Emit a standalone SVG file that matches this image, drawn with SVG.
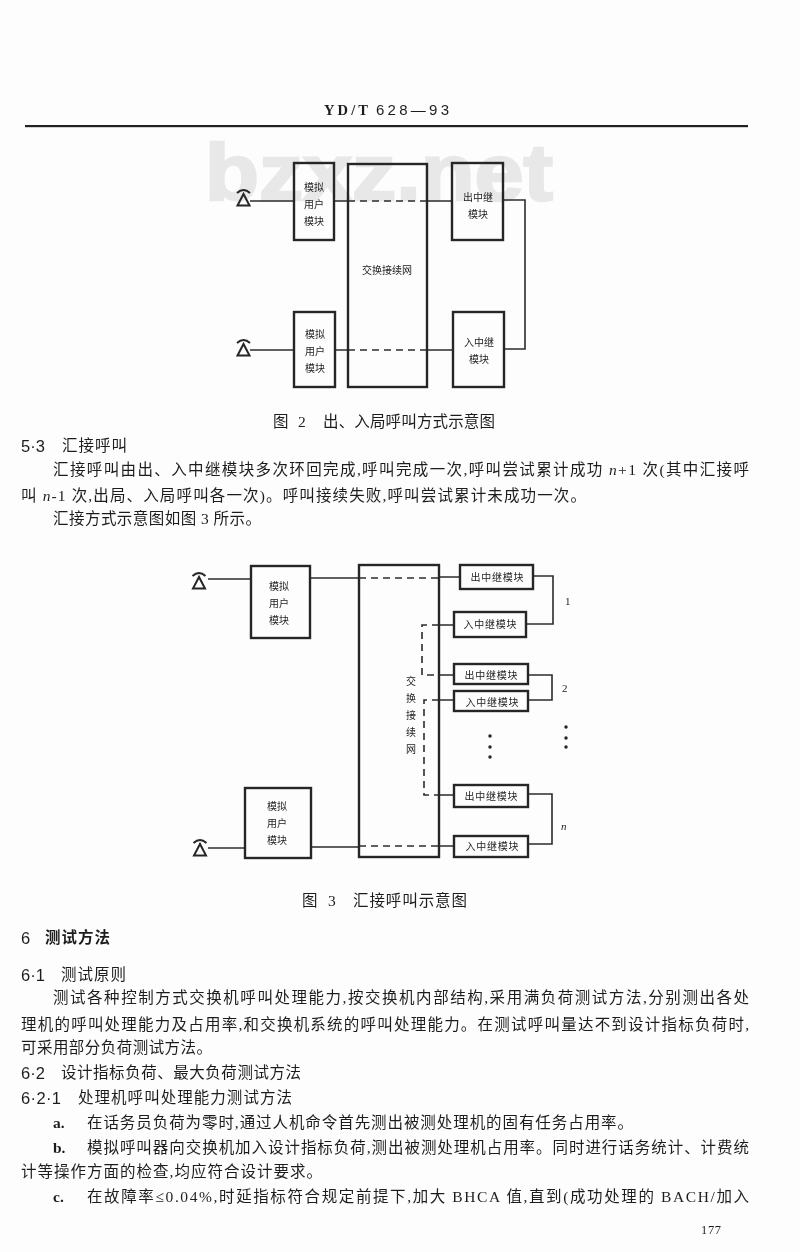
<svg xmlns="http://www.w3.org/2000/svg" width="800" height="1252" viewBox="0 0 800 1252">
<style>
text{font-family:"Liberation Serif","Noto Sans CJK SC",serif;fill:#1e1e1e}
.b{font-size:15.500px}
.s{font-family:"Liberation Sans","Noto Sans CJK SC",sans-serif;font-size:16.500px}
.l{font-size:10px;text-anchor:middle;font-family:"Noto Sans CJK SC",sans-serif}
.c{font-size:15.500px}
.box{fill:none;stroke:#262626;stroke-width:2.400}
.w{fill:none;stroke:#2b2b2b;stroke-width:1.600}
.d{fill:none;stroke:#2b2b2b;stroke-width:1.600;stroke-dasharray:7 5}
.t{fill:none;stroke:#262626;stroke-width:2}
</style>
<defs>
<filter id="soft" x="0" y="0" width="100%" height="100%"><feGaussianBlur stdDeviation="0.350"/></filter>
<g id="ph"><path class="t" d="M-6.500 -6Q0 -12 6.500 -6"/><path class="t" d="M0 -5L-6 6.500H6Z"/></g>
</defs>
<rect width="800" height="1252" fill="#fdfdfd"/>
<g filter="url(#soft)">
<text x="205" y="200" style="font-family:'Liberation Sans',sans-serif;font-size:80px;font-weight:bold;fill:#e8e8e8;stroke:#e8e8e8;stroke-width:2.500" textLength="348" lengthAdjust="spacingAndGlyphs">bzxz.net</text>

<g id="header">
<text x="324" y="115" style="font-size:14.500px;font-weight:bold" textLength="44" lengthAdjust="spacing">YD/T</text>
<text x="376" y="115" style="font-family:'Liberation Sans',sans-serif;font-size:15px" textLength="73" lengthAdjust="spacing">628—93</text>
<rect x="25" y="125" width="723" height="2.200" fill="#222"/>
</g>

<g id="fig2-connectors">
<path class="w" d="M250 201H294M334 201H348M427 201H452M503 200H525V349H504M250 350H294M335 350H348M427 350H453"/>
<path class="d" d="M348 201H427M348 350H427"/>
</g>
<g id="f2-phone1"><use href="#ph" x="243.500" y="199"/></g>
<g id="f2-phone2"><use href="#ph" x="243.500" y="349"/></g>
<g id="f2-sub1"><rect class="box" x="294" y="163" width="40" height="77"/>
<text class="l"><tspan x="314" y="191">模拟</tspan><tspan x="314" y="208">用户</tspan><tspan x="314" y="225">模块</tspan></text></g>
<g id="f2-sub2"><rect class="box" x="294" y="312" width="41" height="75"/>
<text class="l"><tspan x="315" y="338">模拟</tspan><tspan x="315" y="355">用户</tspan><tspan x="315" y="372">模块</tspan></text></g>
<g id="f2-switch"><rect class="box" x="348" y="164" width="79" height="223"/>
<text class="l" x="387" y="274">交换接续网</text></g>
<g id="f2-out"><rect class="box" x="452" y="163" width="51" height="77"/>
<text class="l"><tspan x="478" y="201">出中继</tspan><tspan x="478" y="218">模块</tspan></text></g>
<g id="f2-in"><rect class="box" x="453" y="312" width="51" height="75"/>
<text class="l"><tspan x="479" y="346">入中继</tspan><tspan x="479" y="363">模块</tspan></text></g>
<g id="cap2"><text class="c" x="273" y="427">图</text><text class="c" x="298" y="427">2</text>
<text class="c" x="323" y="427" textLength="172" lengthAdjust="spacing">出、入局呼叫方式示意图</text></g>

<g id="sec53">
<text class="s" x="21" y="452">5·3</text>
<text class="b" x="62" y="451" textLength="65" lengthAdjust="spacing">汇接呼叫</text>
<text class="b" x="53" y="475" textLength="696" lengthAdjust="spacing">汇接呼叫由出、入中继模块多次环回完成,呼叫完成一次,呼叫尝试累计成功 <tspan font-style="italic">n</tspan>+1 次(其中汇接呼</text>
<text class="b" x="21" y="501" textLength="565" lengthAdjust="spacing">叫 <tspan font-style="italic">n</tspan>-1 次,出局、入局呼叫各一次)。呼叫接续失败,呼叫尝试累计未成功一次。</text>
<text class="b" x="53" y="524" textLength="208" lengthAdjust="spacing">汇接方式示意图如图 3 所示。</text>
</g>

<g id="fig3-connectors">
<path class="w" d="M208 579H251M310 578H359M439 577H460M533 576H553V624H526M439 625H454M439 675H454M528 675H552V700H528M439 700H454M439 795H454M528 794H552V844H528M208 848H245M311 847H359M439 846H454"/>
<path class="d" d="M359 578H439M359 846H439M439 625H422V675H439M439 700H424V795H439"/>
</g>
<g id="f3-phone1"><use href="#ph" x="199" y="582"/></g>
<g id="f3-phone2"><use href="#ph" x="200" y="849"/></g>
<g id="f3-sub1"><rect class="box" x="251" y="566" width="59" height="72"/>
<text class="l"><tspan x="279" y="590">模拟</tspan><tspan x="279" y="607">用户</tspan><tspan x="279" y="624">模块</tspan></text></g>
<g id="f3-sub2"><rect class="box" x="245" y="788" width="66" height="70"/>
<text class="l"><tspan x="277" y="810">模拟</tspan><tspan x="277" y="827">用户</tspan><tspan x="277" y="844">模块</tspan></text></g>
<g id="f3-switch"><rect class="box" x="359" y="565" width="80" height="292"/>
<text class="l"><tspan x="411" y="685">交</tspan><tspan x="411" y="702">换</tspan><tspan x="411" y="719">接</tspan><tspan x="411" y="736">续</tspan><tspan x="411" y="753">网</tspan></text></g>
<g id="f3-out1"><rect class="box" x="460" y="565" width="73" height="24"/><text class="l" x="497" y="581" textLength="53" lengthAdjust="spacing">出中继模块</text></g>
<g id="f3-in1"><rect class="box" x="454" y="612" width="72" height="25"/><text class="l" x="490" y="628" textLength="53" lengthAdjust="spacing">入中继模块</text></g>
<g id="f3-out2"><rect class="box" x="454" y="664" width="74" height="20"/><text class="l" x="491" y="679" textLength="53" lengthAdjust="spacing">出中继模块</text></g>
<g id="f3-in2"><rect class="box" x="454" y="691" width="74" height="20"/><text class="l" x="492" y="706" textLength="53" lengthAdjust="spacing">入中继模块</text></g>
<g id="f3-outn"><rect class="box" x="454" y="785" width="74" height="22"/><text class="l" x="491" y="800" textLength="53" lengthAdjust="spacing">出中继模块</text></g>
<g id="f3-inn"><rect class="box" x="454" y="836" width="74" height="21"/><text class="l" x="492" y="850" textLength="53" lengthAdjust="spacing">入中继模块</text></g>
<g id="f3-marks" fill="#222">
<text x="565" y="605" style="font-size:11px">1</text><text x="562" y="692" style="font-size:11px">2</text><text x="561" y="830" style="font-size:11px;font-style:italic">n</text>
<circle cx="490" cy="736" r="1.700"/><circle cx="490" cy="747" r="1.700"/><circle cx="490" cy="757" r="1.700"/>
<circle cx="566" cy="727" r="1.700"/><circle cx="566" cy="738" r="1.700"/><circle cx="566" cy="747" r="1.700"/>
</g>
<g id="cap3"><text class="c" x="302" y="906">图</text><text class="c" x="328" y="906">3</text>
<text class="c" x="353" y="906" textLength="114" lengthAdjust="spacing">汇接呼叫示意图</text></g>

<g id="sec6">
<text class="s" x="21" y="944">6</text>
<text class="b" x="45" y="943" textLength="65" lengthAdjust="spacing" style="font-weight:bold;font-family:'Noto Sans CJK SC',sans-serif">测试方法</text>
<text class="s" x="21" y="981">6·1</text>
<text class="b" x="61" y="980" textLength="65" lengthAdjust="spacing">测试原则</text>
<text class="b" x="53" y="1003" textLength="696" lengthAdjust="spacing">测试各种控制方式交换机呼叫处理能力,按交换机内部结构,采用满负荷测试方法,分别测出各处</text>
<text class="b" x="21" y="1030" textLength="728" lengthAdjust="spacing">理机的呼叫处理能力及占用率,和交换机系统的呼叫处理能力。在测试呼叫量达不到设计指标负荷时,</text>
<text class="b" x="21" y="1053" textLength="191" lengthAdjust="spacing">可采用部分负荷测试方法。</text>
<text class="s" x="21" y="1079">6·2</text>
<text class="b" x="61" y="1078" textLength="240" lengthAdjust="spacing">设计指标负荷、最大负荷测试方法</text>
<text class="s" x="21" y="1104" textLength="40" lengthAdjust="spacing">6·2·1</text>
<text class="b" x="78" y="1103" textLength="214" lengthAdjust="spacing">处理机呼叫处理能力测试方法</text>
<text class="b" x="53" y="1128" style="font-weight:bold">a.</text>
<text class="b" x="87" y="1128" textLength="546" lengthAdjust="spacing">在话务员负荷为零时,通过人机命令首先测出被测处理机的固有任务占用率。</text>
<text class="b" x="53" y="1153" style="font-weight:bold">b.</text>
<text class="b" x="87" y="1153" textLength="662" lengthAdjust="spacing">模拟呼叫器向交换机加入设计指标负荷,测出被测处理机占用率。同时进行话务统计、计费统</text>
<text class="b" x="21" y="1177" textLength="301" lengthAdjust="spacing">计等操作方面的检查,均应符合设计要求。</text>
<text class="b" x="53" y="1202" style="font-weight:bold">c.</text>
<text class="b" x="87" y="1202" textLength="662" lengthAdjust="spacing">在故障率≤0.04%,时延指标符合规定前提下,加大 BHCA 值,直到(成功处理的 BACH/加入</text>
<text x="701" y="1234" style="font-size:12.500px" textLength="20" lengthAdjust="spacing">177</text>
</g>
</g>
</svg>
